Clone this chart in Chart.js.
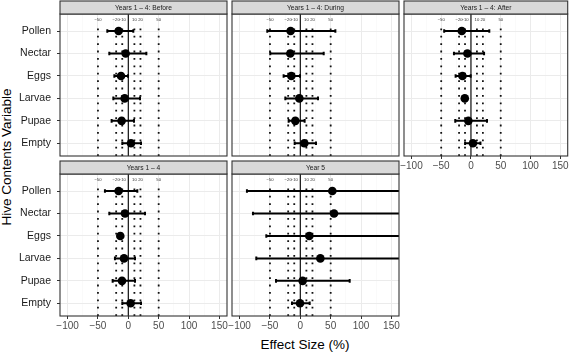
<!DOCTYPE html>
<html><head><meta charset="utf-8">
<script src="https://cdn.jsdelivr.net/npm/chart.js@4"></script>
<style>
html,body{margin:0;padding:0;background:#fff;}
#wrap{position:relative;width:572px;height:353px;overflow:hidden;font-family:"Liberation Sans",Arial,sans-serif;}
#wrap canvas{position:absolute;left:0;top:0;}
.ttl{position:absolute;white-space:nowrap;color:#000;font-size:13.5px;line-height:1;}
#xt{left:305px;top:345px;transform:translate(-50%,-50%);}
#yt{left:7px;top:157px;transform:translate(-50%,-50%) rotate(-90deg);}
</style></head><body>
<div id="wrap">
<div class="ttl" id="xt">Effect Size (%)</div>
<div class="ttl" id="yt">Hive Contents Variable</div>
</div>
<script>
// ---- data ----
const categories = ['Pollen', 'Nectar', 'Eggs', 'Larvae', 'Pupae', 'Empty'];
const panelTitles = ['Years 1 – 4: Before', 'Years 1 – 4: During', 'Years 1 – 4: After', 'Years 1 – 4', 'Year 5'];
const refLines = [-50, -20, -10, 10, 20, 50];
const refLabels = ['\u221250', '\u221220', '\u221210', '10', '20', '50'];
const xTickValues = [-100, -75, -50, -25, 0, 25, 50, 75, 100, 125, 150];

const beforeEst = [-16, -4.4, -12, -6, -11, 4.4];
const beforeLo  = [-34.6, -31.3, -23, -24.7, -27.5, -9.9];
const beforeHi  = [8.2, 29.7, -0.5, 19.2, 9.3, 20.9];

const duringEst = [-16, -16.5, -14.8, -1.6, -8.2, 6.6];
const duringLo  = [-54.4, -49.5, -27.5, -24.7, -19.2, -9.3];
const duringHi  = [57.7, 38.5, -0.5, 29.1, 7.1, 25.8];

const afterEst = [-15.4, -6, -14.3, -10.4, -4.4, 3.3];
const afterLo  = [-45, -28.6, -25.8, -14, -26.4, -9.9];
const afterHi  = [30.8, 22, -0.5, -6.5, 26.9, 15.9];

const years14Est = [-16, -5.5, -13.2, -7.1, -10.4, 3.8];
const years14Lo  = [-38.5, -31.3, -17, -22, -25.8, -9.9];
const years14Hi  = [14.8, 27.5, -9, 11, 11, 20.9];

const year5Est = [52.7, 55.5, 14.8, 33, 3.8, -0.5];
const year5Lo  = [-87.9, -78, -56, -72.5, -40, -13.7];
const year5Hi  = [190, 185, 170, 180, 81.3, 15.4];

// ---- layout ----
const W = 572, H = 353;
const X_MIN = -112.5, X_MAX = 162.5, Y_MIN = 0.435, Y_MAX = 6.757;
const FONT = '"Liberation Sans", Arial, sans-serif';
const CAP = 0.08;

const fmt = v => v < 0 ? '\u2212' + Math.abs(v) : String(v);

const facetPlugin = {
  id: 'facet',
  beforeDatasetsDraw(chart) {
    const {ctx, chartArea: a, scales: {x}} = chart;
    ctx.save();
    ctx.beginPath(); ctx.rect(a.left, a.top, a.right - a.left, a.bottom - a.top); ctx.clip();
    ctx.strokeStyle = '#111'; ctx.lineWidth = 1.8; ctx.setLineDash([1.8, 5.6]); ctx.lineCap = 'butt';
    refLines.forEach(v => {
      const px = x.getPixelForValue(v);
      ctx.beginPath(); ctx.moveTo(px, a.bottom); ctx.lineTo(px, a.top + 11); ctx.stroke();
    });
    ctx.setLineDash([]);
    ctx.lineWidth = 1.2; ctx.strokeStyle = '#111';
    const z = x.getPixelForValue(0);
    ctx.beginPath(); ctx.moveTo(z, a.top); ctx.lineTo(z, a.bottom); ctx.stroke();
    ctx.fillStyle = '#333'; ctx.font = '4.2px ' + FONT; ctx.textAlign = 'center'; ctx.textBaseline = 'middle';
    refLines.forEach((v, i) => ctx.fillText(refLabels[i], x.getPixelForValue(v), a.top + 6));
    ctx.restore();
  },
  afterDraw(chart, args, o) {
    const {ctx, chartArea: a} = chart;
    ctx.save();
    ctx.strokeStyle = '#333'; ctx.lineWidth = 1.1;
    ctx.strokeRect(a.left, a.top, a.right - a.left, a.bottom - a.top);
    ctx.fillStyle = '#D9D9D9';
    ctx.fillRect(a.left, a.top - 13, a.right - a.left, 13);
    ctx.strokeRect(a.left, a.top - 13, a.right - a.left, 13);
    ctx.fillStyle = '#1A1A1A'; ctx.font = '6.7px ' + FONT; ctx.textAlign = 'center'; ctx.textBaseline = 'middle';
    ctx.fillText(o.label, (a.left + a.right) / 2, a.top - 6.3);
    ctx.restore();
  }
};

function makePanel(title, box, showX, showY, est, lo, hi) {
  const cv = document.createElement('canvas');
  cv.width = W; cv.height = H;
  document.getElementById('wrap').appendChild(cv);
  const xH = showX ? 20 : 0;
  const points = est.map((v, i) => ({x: v, y: 6 - i}));
  const bars = [];
  est.forEach((v, i) => {
    const yc = 6 - i;
    bars.push({x: lo[i], y: yc + CAP}, {x: lo[i], y: yc - CAP}, {x: lo[i], y: null},
              {x: lo[i], y: yc}, {x: hi[i], y: yc}, {x: hi[i], y: null},
              {x: hi[i], y: yc + CAP}, {x: hi[i], y: yc - CAP}, {x: hi[i], y: null});
  });
  new Chart(cv, {
    type: 'scatter',
    data: {datasets: [
      {data: points, backgroundColor: '#000', borderWidth: 0, pointRadius: 4.3},
      {type: 'line', data: bars, borderColor: '#000', borderWidth: 2, pointRadius: 0,
       fill: false, spanGaps: false, tension: 0, borderCapStyle: 'butt'}
    ]},
    options: {
      responsive: false, animation: false, devicePixelRatio: 1, events: [],
      layout: {padding: {left: showY ? 0 : box.left, right: W - box.right, top: box.top, bottom: H - box.bottom - xH}},
      plugins: {legend: {display: false}, tooltip: {enabled: false}, facet: {label: title}},
      scales: {
        x: {
          type: 'linear', min: X_MIN, max: X_MAX,
          afterBuildTicks: s => { s.ticks = xTickValues.map(v => ({value: v})); },
          afterFit: s => { s.height = xH; s.paddingLeft = 0; s.paddingRight = 0; },
          border: {display: false},
          grid: {
            color: c => (c.tick && c.tick.value % 50 === 0) ? '#EBEBEB' : '#F4F4F4',
            lineWidth: c => (c.tick && c.tick.value % 50 === 0) ? 1 : 0.5,
            drawTicks: showX, tickLength: 3, tickWidth: 1,
            tickColor: c => (c.tick && c.tick.value % 50 === 0) ? '#333' : 'rgba(0,0,0,0)'
          },
          ticks: {display: showX, padding: 1, color: '#4D4D4D', font: {family: FONT, size: 10},
                  maxRotation: 0, autoSkip: false, callback: v => v % 50 === 0 ? fmt(v) : ''}
        },
        y: {
          type: 'linear', min: Y_MIN, max: Y_MAX,
          afterBuildTicks: s => { s.ticks = categories.map((c, i) => ({value: 6 - i})); },
          afterFit: s => { s.width = showY ? box.left : 0; s.paddingTop = 0; s.paddingBottom = 0; },
          border: {display: false},
          grid: {color: '#EBEBEB', lineWidth: 1, drawTicks: showY, tickLength: 3, tickWidth: 1, tickColor: '#333'},
          ticks: {display: showY, padding: 6, color: '#1A1A1A', font: {family: FONT, size: 10.5},
                  autoSkip: false, callback: v => categories[6 - Math.round(v)]}
        }
      }
    },
    plugins: [facetPlugin]
  });
}

makePanel(panelTitles[0], {left: 60, right: 227, top: 14, bottom: 156}, false, true, beforeEst, beforeLo, beforeHi);
makePanel(panelTitles[1], {left: 232, right: 399, top: 14, bottom: 156}, false, false, duringEst, duringLo, duringHi);
makePanel(panelTitles[2], {left: 404, right: 571, top: 14, bottom: 156}, true, false, afterEst, afterLo, afterHi);
makePanel(panelTitles[3], {left: 60, right: 227, top: 174, bottom: 316}, true, true, years14Est, years14Lo, years14Hi);
makePanel(panelTitles[4], {left: 232, right: 399, top: 174, bottom: 316}, true, false, year5Est, year5Lo, year5Hi);
</script>
</body></html>
